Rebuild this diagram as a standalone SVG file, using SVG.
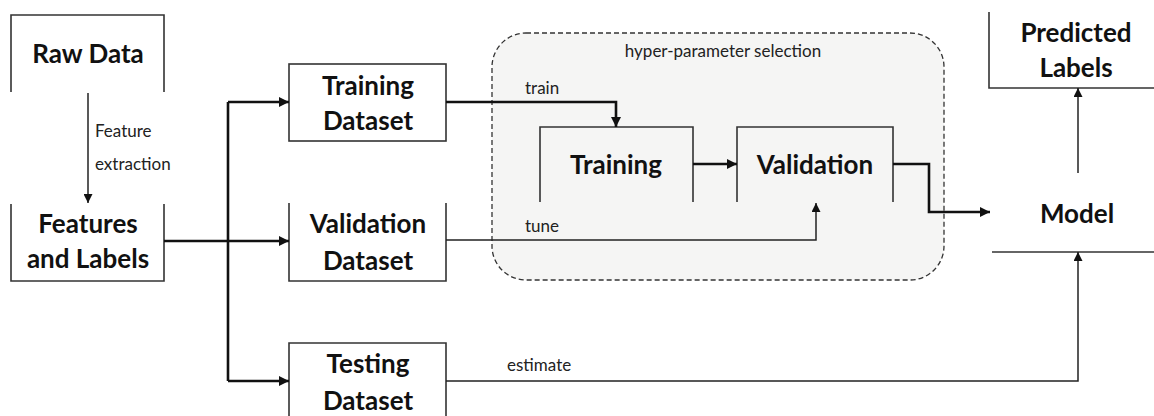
<svg xmlns="http://www.w3.org/2000/svg" width="1154" height="416" viewBox="0 0 1154 416">
<defs>
<style>
.b{fill:none;stroke:#333;stroke-width:1.6}
.t{font-family:Lato,"Liberation Sans",sans-serif;font-weight:bold;font-size:26px;fill:#111;text-anchor:middle}
.s{font-family:Lato,"Liberation Sans",sans-serif;font-size:17px;fill:#222}
.thick{fill:none;stroke:#111;stroke-width:2.6}
.thin{fill:none;stroke:#222;stroke-width:1.5}
</style>
<marker id="ah" viewBox="0 0 10 10" refX="10" refY="5" markerWidth="4" markerHeight="4" orient="auto" markerUnits="strokeWidth"><path d="M0,0L10,5L0,10z" fill="#111"/></marker>
<marker id="ah2" viewBox="0 0 10 10" refX="10" refY="5" markerWidth="6" markerHeight="6" orient="auto" markerUnits="strokeWidth"><path d="M0,0L10,5L0,10z" fill="#111"/></marker>
</defs>
<rect width="1154" height="416" fill="#fff"/>
<g id="hyper">
<rect x="492" y="33" width="452" height="247" rx="34" fill="#f5f5f4" stroke="#333" stroke-width="1.3" stroke-dasharray="5,3"/>
<text class="s" x="723" y="57" text-anchor="middle">hyper-parameter selection</text>
</g>
<g id="raw">
<path class="b" d="M11,92V15H164V92"/>
<text class="t" x="88" y="63">Raw Data</text>
</g>
<g id="features">
<path class="b" d="M11,204V281H164V204"/>
<text class="t" x="88" y="233">Features</text>
<text class="t" x="88" y="268">and Labels</text>
</g>
<g id="trainds">
<rect class="b" x="289" y="64" width="157" height="77"/>
<text class="t" x="368" y="95">Training</text>
<text class="t" x="368" y="130">Dataset</text>
</g>
<g id="valds">
<path class="b" d="M289,203V281H446V203"/>
<text class="t" x="368" y="233">Validation</text>
<text class="t" x="368" y="270">Dataset</text>
</g>
<g id="testds">
<path class="b" d="M289,420V343H446V420"/>
<text class="t" x="368" y="373">Testing</text>
<text class="t" x="368" y="410">Dataset</text>
</g>
<g id="training">
<path class="b" d="M540,202V127H693V202"/>
<text class="t" x="616" y="174">Training</text>
</g>
<g id="validation">
<path class="b" d="M737,202V127H893V202"/>
<text class="t" x="815" y="174">Validation</text>
</g>
<g id="model">
<path class="b" d="M992,252H1154"/>
<text class="t" x="1077" y="223">Model</text>
</g>
<g id="predicted">
<path class="b" d="M989,12V88H1154"/>
<text class="t" x="1076" y="42">Predicted</text>
<text class="t" x="1076" y="77">Labels</text>
</g>
<g id="connectors">
<path class="thin" d="M88,93V203" marker-end="url(#ah2)"/>
<text class="s" x="95" y="137" fill="#444">Feature</text>
<text class="s" x="95" y="170" fill="#444">extraction</text>
<path class="thick" d="M164,241H228"/>
<path class="thick" d="M228,102V381"/>
<path class="thick" d="M228,102H289" marker-end="url(#ah)"/>
<path class="thick" d="M228,241H289" marker-end="url(#ah)"/>
<path class="thick" d="M228,381H289" marker-end="url(#ah)"/>
<path class="thick" d="M446,102H616V127" marker-end="url(#ah)"/>
<text class="s" x="525" y="94">train</text>
<path class="thin" d="M446,240H816V203" marker-end="url(#ah2)"/>
<text class="s" x="525" y="232">tune</text>
<path class="thick" d="M693,164H737" marker-end="url(#ah)"/>
<path class="thick" d="M893,164H929V212H990" marker-end="url(#ah)"/>
<path class="thin" d="M1078,173V88" marker-end="url(#ah2)"/>
<path class="thin" d="M446,381H1078V252" marker-end="url(#ah2)"/>
<text class="s" x="507" y="371">estimate</text>
</g>
</svg>
